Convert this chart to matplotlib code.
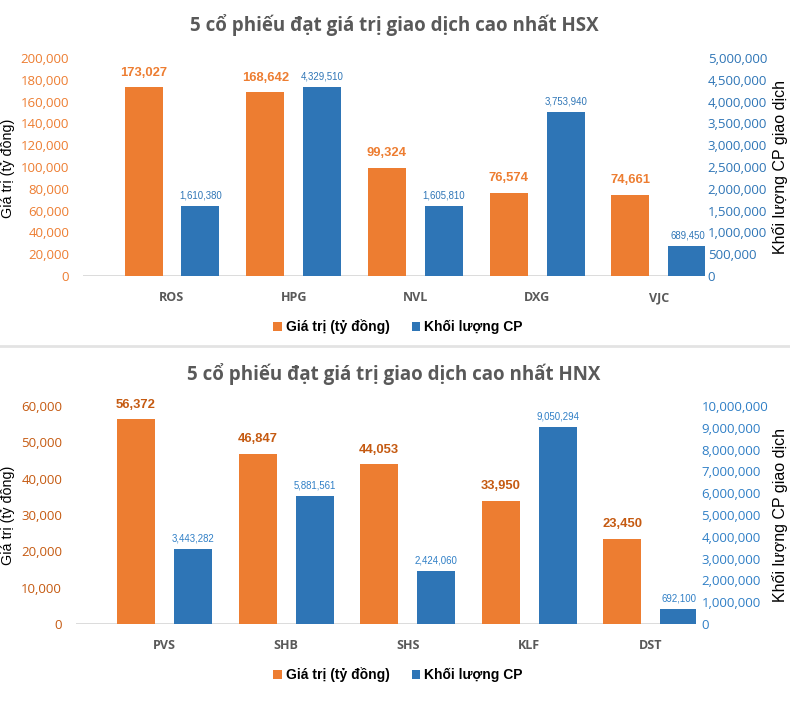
import matplotlib
matplotlib.use("Agg")
import matplotlib.pyplot as plt
from matplotlib.ticker import FuncFormatter, MultipleLocator
from matplotlib.lines import Line2D
import numpy as np

# ---------------- data ----------------
hsx_codes = ["ROS", "HPG", "NVL", "DXG", "VJC"]
hsx_value = [173027, 168642, 99324, 76574, 74661]
hsx_volume = [1610380, 4329510, 1605810, 3753940, 689450]

hnx_codes = ["PVS", "SHB", "SHS", "KLF", "DST"]
hnx_value = [56372, 46847, 44053, 33950, 23450]
hnx_volume = [3443282, 5881561, 2424060, 9050294, 692100]

title_hsx = "5 cổ phiếu đạt giá trị giao dịch cao nhất HSX"
title_hnx = "5 cổ phiếu đạt giá trị giao dịch cao nhất HNX"
legend_labels = ["Giá trị (tỷ đồng)", "Khối lượng CP"]
ylabel_left = "Giá trị (tỷ đồng)"
ylabel_right = "Khối lượng CP giao dịch"

# ---------------- style ----------------
W, H = 790, 715
DPI = 100
ORANGE = "#ED7D31"
DARK_ORANGE = "#C55A11"
BLUE = "#2E75B6"
BLUE_LBL = "#2F7FC6"
GRAY_TXT = "#595959"
LINE_GRAY = "#D9D9D9"
SANS = ["Open Sans", "DejaVu Sans"]
ARIAL = ["Liberation Sans", "DejaVu Sans"]

fig = plt.figure(figsize=(W / DPI, H / DPI), dpi=DPI)
fig.patch.set_facecolor("white")


def fx(px):
    return px / W


def fy(py):
    return 1 - py / H


comma = FuncFormatter(lambda v, p: f"{int(round(v)):,}")


def panel(left, right, top, bottom, xlim, codes, vals, vols, vmax, vstep,
          volmax, volstep, val_tick_color, val_lbl_color, vol_tick_color,
          vol_lbl_color, line_frac, lpad, rpad):
    ax = fig.add_axes([fx(left), fy(bottom), fx(right - left), (bottom - top) / H])
    ax2 = ax.twinx()
    x = np.arange(len(codes))
    bw = 0.312
    off = 0.234
    b1 = ax.bar(x - off, vals, width=bw, color=ORANGE, zorder=3)
    b2 = ax2.bar(x + off, vols, width=bw, color=BLUE, zorder=3)
    ax.set_xlim(*xlim)
    ax.set_ylim(0, vmax)
    ax2.set_ylim(0, volmax)
    ax.yaxis.set_major_locator(MultipleLocator(vstep))
    ax2.yaxis.set_major_locator(MultipleLocator(volstep))
    ax.yaxis.set_major_formatter(comma)
    ax2.yaxis.set_major_formatter(comma)
    for a in (ax, ax2):
        for s in a.spines.values():
            s.set_visible(False)
        a.tick_params(length=0)
    ax.tick_params(axis="y", colors=val_tick_color, labelsize=9.5, pad=lpad)
    ax2.tick_params(axis="y", colors=vol_tick_color, labelsize=9.5, pad=rpad)
    for t in ax.get_yticklabels() + ax2.get_yticklabels():
        t.set_family(SANS)
    ax.set_xticks(x)
    ax.set_xticklabels(codes, family=SANS, fontweight="bold", fontsize=9,
                       color=GRAY_TXT)
    ax.tick_params(axis="x", pad=11)
    ax.axhline(0, xmin=0, xmax=line_frac, color=LINE_GRAY, lw=1.3, zorder=2)
    for rect, v in zip(b1, vals):
        ax.annotate(f"{v:,}", (rect.get_x() + rect.get_width() / 2, v),
                    xytext=(0, 6), textcoords="offset points", ha="center",
                    va="bottom", family=ARIAL, fontweight="bold",
                    fontsize=9.4, color=val_lbl_color)
    for rect, v in zip(b2, vols):
        ax2.annotate(f"{v:,}", (rect.get_x() + rect.get_width() / 2, v),
                     xytext=(0, 4), textcoords="offset points", ha="center",
                     va="bottom", family=ARIAL, fontsize=6.9,
                     color=vol_lbl_color)
    ax.set_facecolor("none")
    return ax, ax2, b1, b2


# ---- top panel (HSX) ----
ax, ax2, b1, b2 = panel(83, 705, 58, 276, (-0.731, 4.378), hsx_codes, hsx_value,
                        hsx_volume, 200000, 20000, 5000000, 500000, ORANGE,
                        ORANGE, BLUE, BLUE, (693 - 83) / (705 - 83), 10, 2)
fig.text(fx(394), fy(25), title_hsx, ha="center", va="center", family=SANS,
         fontweight="bold", fontsize=13.5, color=GRAY_TXT)
fig.text(fx(8), fy(168), ylabel_left, rotation=90, ha="center", va="center",
         family=ARIAL, fontsize=10.3, color="black")
fig.text(fx(780), fy(167), ylabel_right, rotation=90, ha="center", va="center",
         fontsize=11.5, family=ARIAL, color="black")
fig.legend([b1, b2], legend_labels, loc="center", bbox_to_anchor=(fx(398), fy(327)),
           ncol=2, frameon=False, handlelength=0.6, handleheight=0.6,
           handletextpad=0.3, columnspacing=1.6,
           prop={"family": ARIAL, "weight": "bold", "size": 10})

# ---- bottom panel (HNX) ----
ax, ax2, b1, b2 = panel(76, 696, 406, 624, (-0.728, 4.371), hnx_codes, hnx_value,
                        hnx_volume, 60000, 10000, 10000000, 1000000,
                        DARK_ORANGE, DARK_ORANGE, BLUE_LBL, BLUE_LBL,
                        (690 - 76) / (696 - 76), 10, 4)
fig.text(fx(394), fy(374), title_hnx, ha="center", va="center", family=SANS,
         fontweight="bold", fontsize=13.5, color=GRAY_TXT)
fig.text(fx(8), fy(515), ylabel_left, rotation=90, ha="center", va="center",
         family=ARIAL, fontsize=10.3, color="black")
fig.text(fx(780), fy(515), ylabel_right, rotation=90, ha="center", va="center",
         fontsize=11.5, family=ARIAL, color="black")
fig.legend([b1, b2], legend_labels, loc="center", bbox_to_anchor=(fx(398), fy(675)),
           ncol=2, frameon=False, handlelength=0.6, handleheight=0.6,
           handletextpad=0.3, columnspacing=1.6,
           prop={"family": ARIAL, "weight": "bold", "size": 10})

# separator line between the two charts
fig.add_artist(Line2D([0, 1], [fy(346), fy(346)], transform=fig.transFigure,
                      color="#E3E3E3", lw=2))

fig.savefig("out.png", dpi=DPI, facecolor="white")
